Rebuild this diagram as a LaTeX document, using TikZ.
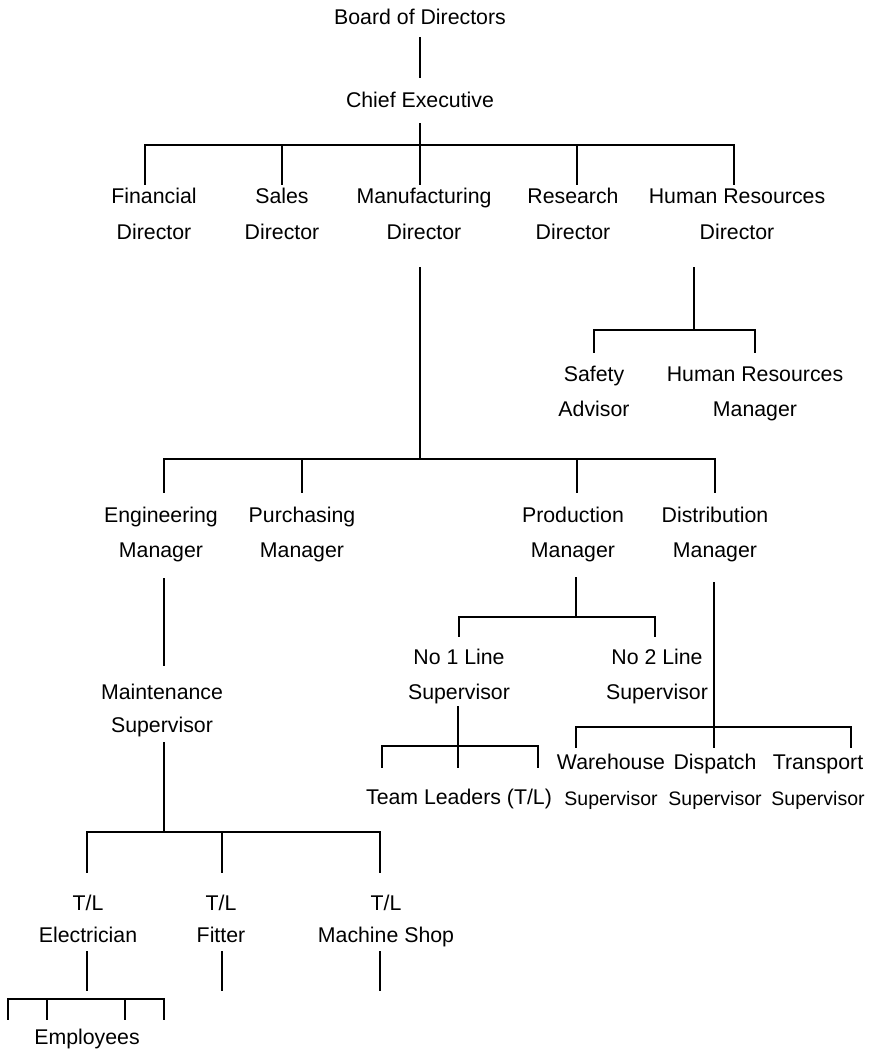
\documentclass[tikz,border=0pt]{standalone}
\usepackage{fontspec}
\setmainfont{Liberation Sans}
\begin{document}
\begin{tikzpicture}[x=1pt,y=-1pt,
  lbl/.style={align=center, inner sep=0pt, text depth=4.5pt, font=\fontsize{21.3}{35}\selectfont},
  ln/.style={line width=1.3pt, line cap=rect},
  thk/.style={line width=2.6pt}]
\newcommand{\smsup}{{\fontsize{19.5}{35}\selectfont Supervisor}}
\useasboundingbox (0,0) rectangle (871,1051);
% nodes
\node[lbl] (bod) at (420,19) {Board of Directors};
\node[lbl] (ce)  at (420,102) {Chief Executive};
\node[lbl,font=\fontsize{21.3}{36}\selectfont] (fd)  at (154,216) {Financial\\Director};
\node[lbl,font=\fontsize{21.3}{36}\selectfont] (sd)  at (282,216) {Sales\\Director};
\node[lbl,font=\fontsize{21.3}{36}\selectfont] (md)  at (424,216) {Manufacturing\\Director};
\node[lbl,font=\fontsize{21.3}{36}\selectfont] (rd)  at (573,216) {Research\\Director};
\node[lbl,font=\fontsize{21.3}{36}\selectfont] (hrd) at (737,216) {Human Resources\\Director};
\node[lbl] (sa)  at (594,393.6) {Safety\\Advisor};
\node[lbl] (hrm) at (755,393.6) {Human Resources\\Manager};
\node[lbl] (em)  at (161,534.6) {Engineering\\Manager};
\node[lbl] (pm)  at (302,534.6) {Purchasing\\Manager};
\node[lbl] (prm) at (573,534.6) {Production\\Manager};
\node[lbl] (dm)  at (715,534.6) {Distribution\\Manager};
\node[lbl,font=\fontsize{21.3}{33}\selectfont] (ms) at (162,710.6) {Maintenance\\Supervisor};
\node[lbl] (l1)  at (459,676.6) {No 1 Line\\Supervisor};
\node[lbl] (l2)  at (657,676.6) {No 2 Line\\Supervisor};
\node[lbl] (tl)  at (459,799) {Team Leaders (T/L)};
\node[lbl,font=\fontsize{21.3}{36}\selectfont] (ws)  at (611,782) {Warehouse\\\smsup};
\node[lbl,font=\fontsize{21.3}{36}\selectfont] (ds)  at (715,782) {Dispatch\\\smsup};
\node[lbl,font=\fontsize{21.3}{36}\selectfont] (ts)  at (818,782) {Transport\\\smsup};
\node[lbl,font=\fontsize{21.3}{32}\selectfont] (te) at (88,921) {T/L\\Electrician};
\node[lbl,font=\fontsize{21.3}{32}\selectfont] (tf) at (221,921) {T/L\\Fitter};
\node[lbl,font=\fontsize{21.3}{32}\selectfont] (tm) at (386,921) {T/L\\Machine Shop};
\node[lbl] (emp) at (87,1039) {Employees};
% bus coordinates
\coordinate (ceB) at (420,145);
\coordinate (mdB) at (420,459);
\coordinate (hrB) at (694,330);
\coordinate (msB) at (164,832);
\coordinate (prB) at (576,617);
\coordinate (l1B) at (458,746);
\coordinate (dmB) at (714,727);
\coordinate (teB) at (87,999);
% connectors
\draw[ln] (bod |- 0,38) -- (bod |- 0,77);
\draw[ln] (ceB |- 0,124) -- (ceB);
\draw[ln] (145,184) -- (145,145) -- (734,145) -- (734,184);
\draw[ln] (282,145) -- (282,184);
\draw[ln] (ceB) -- (420,184);
\draw[ln] (577,145) -- (577,184);
\draw[ln] (mdB |- 0,268) -- (mdB);
\draw[ln] (164,492) -- (164,459) -- (715,459) -- (715,492);
\draw[ln] (302,459) -- (302,492);
\draw[ln] (577,459) -- (577,492);
\draw[ln] (hrB |- 0,268) -- (hrB);
\draw[ln] (594,352) -- (594,330) -- (755,330) -- (755,352);
\draw[thk] (164,578) -- (164,666);
\draw[thk] (164,742) -- (msB);
\draw[ln] (87,872) -- (87,832) -- (380,832) -- (380,872);
\draw[ln] (222,832) -- (222,872);
\draw[ln] (87,952) -- (87,990);
\draw[ln] (222,952) -- (222,990);
\draw[ln] (380,952) -- (380,990);
\draw[ln] (8,1019) -- (8,999) -- (164,999) -- (164,1019);
\draw[ln] (47,999) -- (47,1019);
\draw[ln] (125,999) -- (125,1019);
\draw[ln] (prB |- 0,578) -- (prB);
\draw[ln] (459,636) -- (459,617) -- (655,617) -- (655,636);
\draw[ln] (l1B |- 0,707) -- (458,767);
\draw[ln] (382,767) -- (382,746) -- (538,746) -- (538,767);
\draw[ln] (dmB |- 0,583) -- (714,747);
\draw[ln] (576,747) -- (576,727) -- (851,727) -- (851,747);
\end{tikzpicture}
\end{document}
